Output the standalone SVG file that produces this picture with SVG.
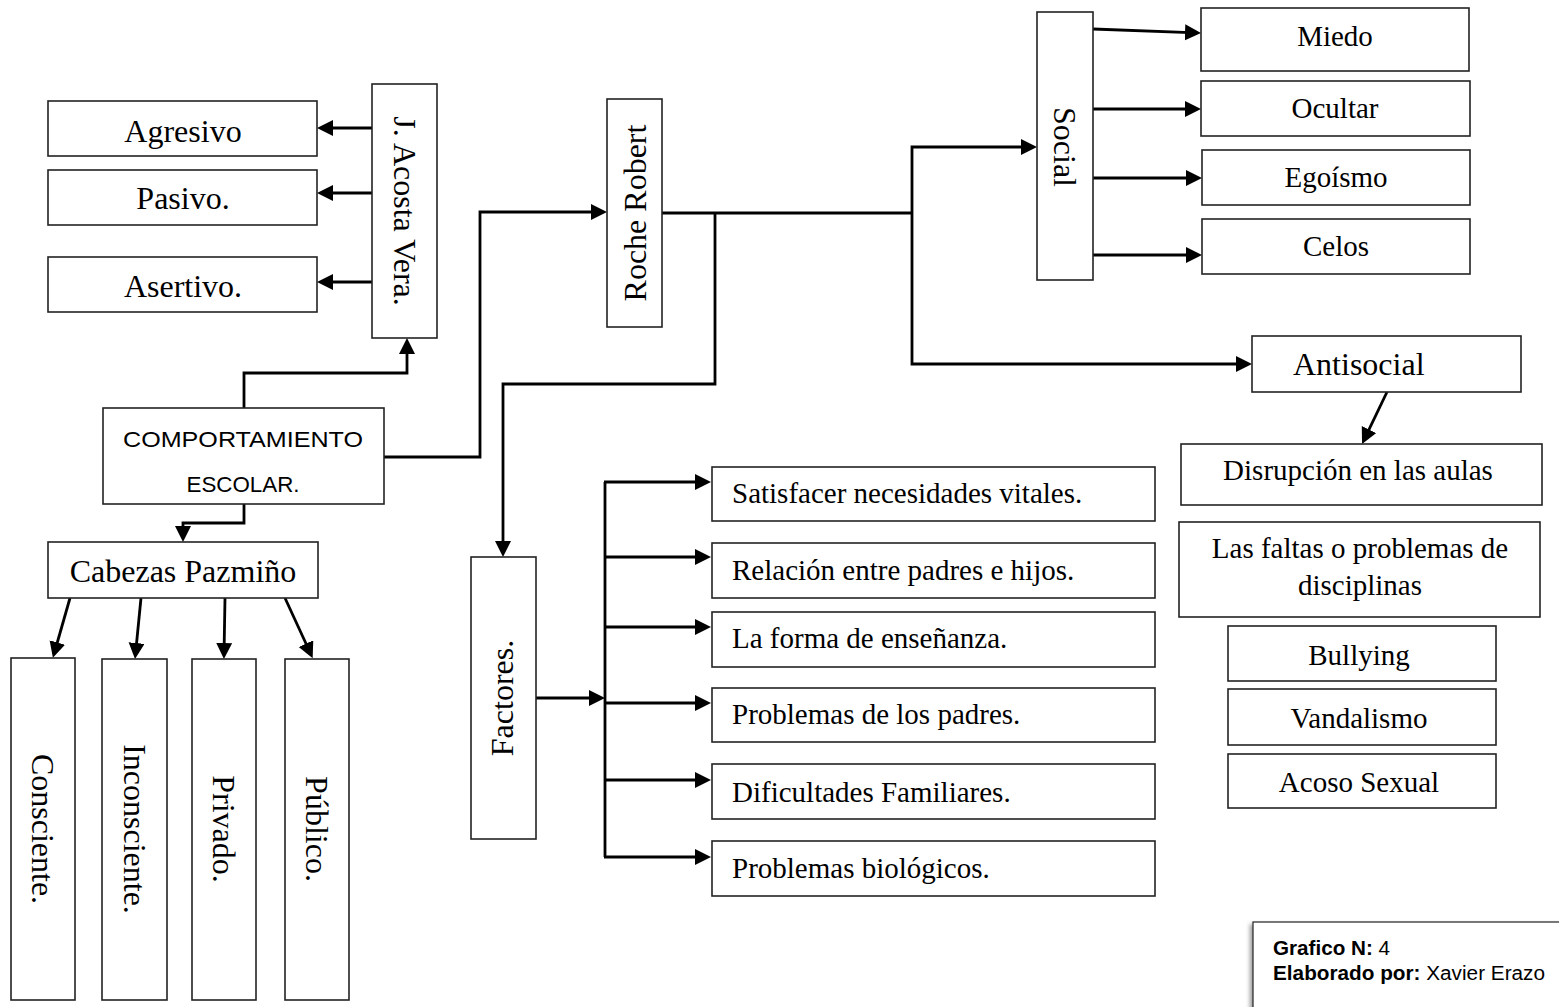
<svg xmlns="http://www.w3.org/2000/svg" width="1559" height="1007" viewBox="0 0 1559 1007">
<style>
.box{fill:#fff;stroke:#222;stroke-width:1.6}
.t{font-family:"Liberation Serif","Times New Roman",serif;fill:#000;font-size:32px}
.s{font-size:29px}
.c{text-anchor:middle}
.cal{font-family:"Liberation Sans",Arial,sans-serif;fill:#000}
.con path{fill:none;stroke:#000;stroke-width:2.8;stroke-linejoin:miter}
.con path.a{marker-end:url(#ah)}
</style>
<defs>
<marker id="ah" markerUnits="userSpaceOnUse" markerWidth="18" markerHeight="18" refX="12" refY="8" orient="auto">
<path d="M0,0 L16,8 L0,16 z" fill="#000"/>
</marker>
<filter id="sh" x="-10%" y="-10%" width="120%" height="120%">
<feGaussianBlur stdDeviation="2"/>
</filter>
</defs>

<g class="con" id="connectors">
<path class="a" d="M372,128 H321"/>
<path class="a" d="M372,193 H321"/>
<path class="a" d="M372,282 H321"/>
<path class="a" d="M244,408 V373 H407 V342"/>
<path class="a" d="M384,457 H480 V212 H603"/>
<path class="a" d="M244,504 V523 H183 V538"/>
<path class="a" d="M70,598 L54,654"/>
<path class="a" d="M141,598 L135.4,655"/>
<path class="a" d="M225,598 L224,655"/>
<path class="a" d="M285,598 L311,654.5"/>
<path d="M662,213 H912"/>
<path class="a" d="M715,213 V384 H503 V553"/>
<path class="a" d="M912,213 V147 H1033"/>
<path class="a" d="M912,213 V364 H1248"/>
<path class="a" d="M1093,29 L1197,32.8"/>
<path class="a" d="M1093,109 H1197"/>
<path class="a" d="M1093,178 H1198"/>
<path class="a" d="M1093,255 H1198"/>
<path class="a" d="M1387,392 L1363.8,440.4"/>
<path class="a" d="M536,698 H601"/>
<path d="M605,482 V857"/>
<path class="a" d="M604,482 H707"/>
<path class="a" d="M604,557 H707"/>
<path class="a" d="M604,627 H707"/>
<path class="a" d="M604,703 H707"/>
<path class="a" d="M604,780 H707"/>
<path class="a" d="M604,857 H707"/>
</g>

<g id="agresivo"><rect class="box" x="48" y="101" width="269" height="55"/><text class="t c" x="183" y="142">Agresivo</text></g>
<g id="pasivo"><rect class="box" x="48" y="170" width="269" height="55"/><text class="t c" x="183" y="209">Pasivo.</text></g>
<g id="asertivo"><rect class="box" x="48" y="257" width="269" height="55"/><text class="t c" x="183" y="297">Asertivo.</text></g>
<g id="acosta"><rect class="box" x="372" y="84" width="65" height="254"/><text class="t c" transform="translate(405,211) rotate(90)" x="0" y="11">J. Acosta Vera.</text></g>

<g id="comportamiento"><rect class="box" x="103" y="408" width="281" height="96"/>
<text class="cal c" font-size="22.5" x="243" y="447" textLength="240" lengthAdjust="spacingAndGlyphs">COMPORTAMIENTO</text>
<text class="cal c" font-size="22.5" x="243" y="492" textLength="113" lengthAdjust="spacingAndGlyphs">ESCOLAR.</text></g>

<g id="cabezas"><rect class="box" x="48" y="542" width="270" height="56"/><text class="t c" x="183" y="582">Cabezas Pazmiño</text></g>
<g id="consciente"><rect class="box" x="11" y="658" width="64" height="342"/><text class="t c" transform="translate(43,829) rotate(90)" x="0" y="11">Consciente.</text></g>
<g id="inconsciente"><rect class="box" x="102" y="659" width="65" height="341"/><text class="t c" transform="translate(134.5,829) rotate(90)" x="0" y="11">Inconsciente.</text></g>
<g id="privado"><rect class="box" x="192" y="659" width="64" height="341"/><text class="t c" transform="translate(224,829) rotate(90)" x="0" y="11">Privado.</text></g>
<g id="publico"><rect class="box" x="285" y="659" width="64" height="341"/><text class="t c" transform="translate(317,829) rotate(90)" x="0" y="11">Público.</text></g>

<g id="roche"><rect class="box" x="607" y="99" width="55" height="228"/><text class="t c" transform="translate(635,213) rotate(-90)" x="0" y="11">Roche Robert</text></g>
<g id="factores"><rect class="box" x="471" y="557" width="65" height="282"/><text class="t c" transform="translate(502,698) rotate(-90)" x="0" y="11">Factores.</text></g>

<g id="satisfacer"><rect class="box" x="712" y="467" width="443" height="54"/><text class="t s" x="732" y="503">Satisfacer necesidades vitales.</text></g>
<g id="relacion"><rect class="box" x="712" y="543" width="443" height="55"/><text class="t s" x="732" y="580">Relación entre padres e hijos.</text></g>
<g id="forma"><rect class="box" x="712" y="612" width="443" height="55"/><text class="t s" x="732" y="648">La forma de enseñanza.</text></g>
<g id="padres"><rect class="box" x="712" y="688" width="443" height="54"/><text class="t s" x="732" y="724">Problemas de los padres.</text></g>
<g id="dificultades"><rect class="box" x="712" y="764" width="443" height="55"/><text class="t s" x="732" y="802">Dificultades Familiares.</text></g>
<g id="biologicos"><rect class="box" x="712" y="841" width="443" height="55"/><text class="t s" x="732" y="878">Problemas biológicos.</text></g>

<g id="social"><rect class="box" x="1037" y="12" width="56" height="268"/><text class="t c" transform="translate(1065,147) rotate(90)" x="0" y="11">Social</text></g>
<g id="miedo"><rect class="box" x="1201" y="8" width="268" height="63"/><text class="t s c" x="1335" y="46">Miedo</text></g>
<g id="ocultar"><rect class="box" x="1201" y="81" width="269" height="55"/><text class="t s c" x="1335" y="118">Ocultar</text></g>
<g id="egoismo"><rect class="box" x="1202" y="150" width="268" height="55"/><text class="t s c" x="1336" y="187">Egoísmo</text></g>
<g id="celos"><rect class="box" x="1202" y="219" width="268" height="55"/><text class="t s c" x="1336" y="256">Celos</text></g>

<g id="antisocial"><rect class="box" x="1252" y="336" width="269" height="56"/><text class="t" x="1293" y="375">Antisocial</text></g>
<g id="disrupcion"><rect class="box" x="1181" y="444" width="361" height="61"/><text class="t s c" x="1358" y="480">Disrupción en las aulas</text></g>
<g id="faltas"><rect class="box" x="1179" y="522" width="361" height="95"/><text class="t s c" x="1360" y="558">Las faltas o problemas de</text><text class="t s c" x="1360" y="595">disciplinas</text></g>
<g id="bullying"><rect class="box" x="1228" y="626" width="268" height="55"/><text class="t s c" x="1359" y="665">Bullying</text></g>
<g id="vandalismo"><rect class="box" x="1228" y="689" width="268" height="56"/><text class="t s c" x="1359" y="728">Vandalismo</text></g>
<g id="acoso"><rect class="box" x="1228" y="754" width="268" height="54"/><text class="t s c" x="1359" y="792">Acoso Sexual</text></g>

<g id="caption">
<rect x="1250" y="924" width="330" height="100" fill="#999" filter="url(#sh)"/>
<rect x="1253" y="922" width="330" height="100" fill="#fff" stroke="#333" stroke-width="1.3"/>
<text class="cal" font-size="19.5" x="1273" y="955" textLength="117" lengthAdjust="spacingAndGlyphs"><tspan font-weight="bold">Grafico N:</tspan> 4</text>
<text class="cal" font-size="19.5" x="1273" y="980" textLength="272" lengthAdjust="spacingAndGlyphs"><tspan font-weight="bold">Elaborado por:</tspan> Xavier Erazo</text>
</g>
</svg>
